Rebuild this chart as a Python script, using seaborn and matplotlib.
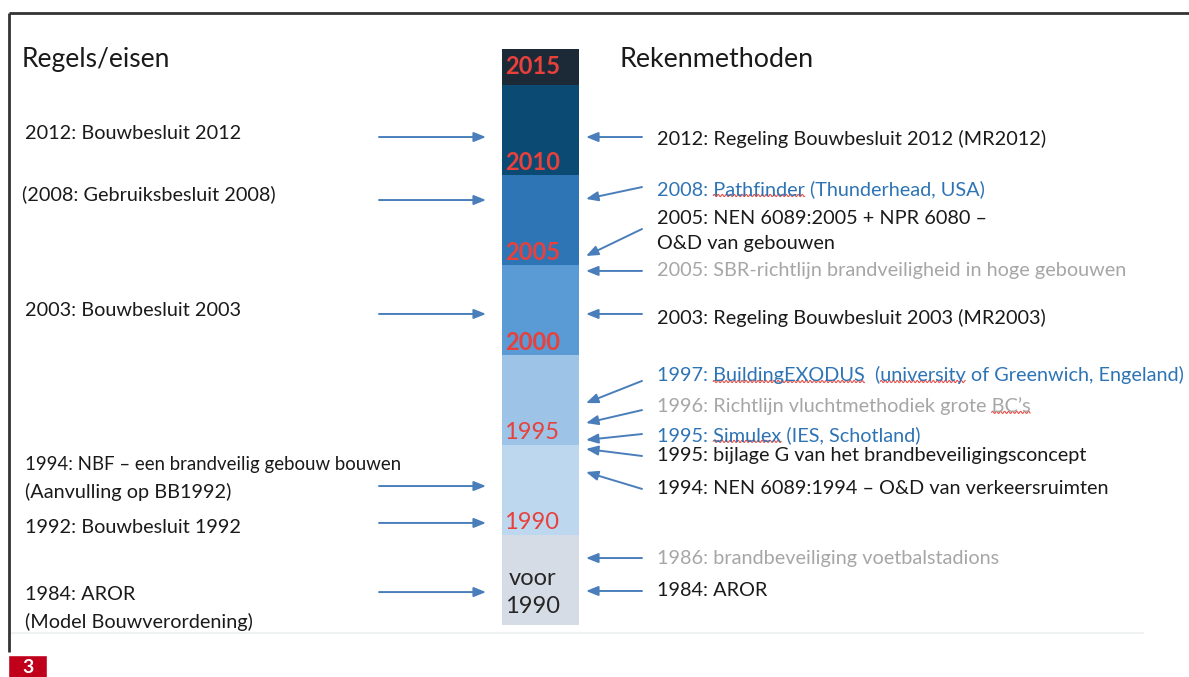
import matplotlib
matplotlib.use('Agg')
import numpy as np
import matplotlib.pyplot as plt
import seaborn as sns

sns.set_theme(style='white')
plt.rcParams['font.family'] = ['Lato', 'DejaVu Sans']

# timeline column (years, 2015 block is a short cap)
period_start = [1985, 1990, 1995, 2000, 2005, 2010, 2015]
period_len = [5, 5, 5, 5, 5, 5, 2]
period_labels = ['voor\n1990', '1990', '1995', '2000', '2005', '2010', '2015']
period_label_y = [1986.8, 1990.72, 1995.67, 2000.67, 2005.67, 2010.72, 2016.0]
period_colors = ['#d6dce5', '#bdd7ee', '#9dc3e6', '#5b9bd5', '#2e75b6', '#0b4a72', '#1c2a38']

# left side: rules / requirements
left_lines = ['2012: Bouwbesluit 2012', '(2008: Gebruiksbesluit 2008)', '2003: Bouwbesluit 2003',
              '1994: NBF – een brandveilig gebouw bouwen', '(Aanvulling op BB1992)',
              '1992: Bouwbesluit 1992', '1984: AROR', '(Model Bouwverordening)']
left_line_y = [2012.33, 2008.94, 2002.5, 1993.89, 1992.39, 1990.44, 1986.72, 1985.17]
left_arrow_y = [2012.11, 2008.61, 2002.28, 1992.72, 1990.67, 1986.83]

# right side: calculation methods
right_lines = ['2012: Regeling Bouwbesluit 2012 (MR2012)',
               '2008: Pathfinder (Thunderhead, USA)',
               '2005: NEN 6089:2005 + NPR 6080 –',
               'O&D van gebouwen',
               '2005: SBR-richtlijn brandveiligheid in hoge gebouwen',
               '2003: Regeling Bouwbesluit 2003 (MR2003)',
               '1997: BuildingEXODUS  (university of Greenwich, Engeland)',
               '1996: Richtlijn vluchtmethodiek grote BC’s',
               '1995: Simulex (IES, Schotland)',
               '1995: bijlage G van het brandbeveiligingsconcept',
               '1994: NEN 6089:1994 – O&D van verkeersruimten',
               '1986: brandbeveiliging voetbalstadions',
               '1984: AROR']
right_line_y = [2012.0, 2009.22, 2007.61, 2006.17, 2004.67, 2002.06, 1998.89,
                1997.17, 1995.56, 1994.39, 1992.56, 1988.72, 1986.89]
right_kind = ['main', 'model', 'main', 'main', 'guide', 'main', 'model',
              'guide', 'model', 'main', 'main', 'guide', 'main']
right_arrow_from = [2012.11, 2009.33, 2007.0, 2004.67, 2002.28, 1998.56, 1996.94,
                    1995.61, 1994.39, 1992.56, 1988.72, 1986.89]
right_arrow_to = [2012.11, 2008.67, 2005.5, 2004.67, 2002.28, 1997.33, 1996.22,
                  1995.28, 1994.78, 1993.5, 1988.72, 1986.89]

# words with the spell-check underline: (line index, word)
squiggle_words = [(1, 'Pathfinder'), (6, 'BuildingEXODUS'), (6, 'university'),
                  (7, 'BC’s'), (8, 'Simulex')]

kind_colors = {'main': '#1a1a1a', 'model': '#2e74b5', 'guide': '#a6a6a6'}
arrow_color = '#4a7ebb'
red = '#e8413c'
body_size = 14.3

fig = plt.figure(figsize=(11.89, 6.77), dpi=100)
ax = fig.add_axes([0, 0, 1, 1])
ax.set_xlim(0, 1189)
ax.set_ylim(1985 - 52 / 18, 1985 + 625 / 18)
ax.axis('off')

# frame of the original figure
ax.plot([9, 1189], [2019.0, 2019.0], color='#333333', lw=2, solid_capstyle='butt')
ax.plot([9, 9], [2019.0, 1983.5], color='#333333', lw=2, solid_capstyle='butt')
ax.plot([12, 1143], [1984.56, 1984.56], color='#eef2f2', lw=1.5)
ax.bar(27.5, 1983.33 - 1982.0, bottom=1982.0, width=39, color='#c0001a')
ax.text(27.5, 1982.62, '3', color='white', fontsize=14, fontweight='bold',
        ha='center', va='center')

# timeline column
ax.bar(540.5, period_len, bottom=period_start, width=77, color=period_colors,
       edgecolor='none')
for lab, y in zip(period_labels, period_label_y):
    if lab.startswith('voor'):
        ax.text(533, y, lab, ha='center', va='center', fontsize=17,
                color='#262626', linespacing=1.4)
    elif lab in ('1990', '1995'):
        ax.text(532, y, lab, ha='center', va='center', fontsize=17, color=red)
    else:
        ax.text(533, y, lab, ha='center', va='center', fontsize=17, color=red,
                fontweight='bold')

# headers
ax.text(22, 2016.39, 'Regels/eisen', fontsize=19, color='#1a1a1a', va='center')
ax.text(619, 2016.39, 'Rekenmethoden', fontsize=19.4, color='#1a1a1a', va='center')

# left column
for txt, y in zip(left_lines, left_line_y):
    x = 22 if txt.startswith('(2008') else 25
    size = 13.4 if txt.startswith('1994') else body_size
    ax.text(x, y, txt, fontsize=size, color='#1a1a1a', va='center')

arrow_kw = dict(arrowstyle='-|>,head_length=0.6,head_width=0.24', color=arrow_color,
                lw=1.4, shrinkA=0, shrinkB=0)
for y in left_arrow_y:
    ax.annotate('', xy=(486, y), xytext=(379, y), arrowprops=arrow_kw)

# right column
right_texts = []
for txt, y, k in zip(right_lines, right_line_y, right_kind):
    right_texts.append(ax.text(657, y, txt, fontsize=body_size, color=kind_colors[k],
                               va='center'))

for y0, y1 in zip(right_arrow_from, right_arrow_to):
    ax.annotate('', xy=(586, y1), xytext=(642, y0), arrowprops=arrow_kw)

# red wavy spell-check underlines
fig.canvas.draw()
renderer = fig.canvas.get_renderer()


def text_width(s, size):
    t = ax.text(0, 0, s, fontsize=size)
    w = t.get_window_extent(renderer).width
    t.remove()
    return w


inv = ax.transData.inverted()
for idx, word in squiggle_words:
    t = right_texts[idx]
    full = right_lines[idx]
    bb = t.get_window_extent(renderer)
    x0 = bb.x0 + text_width(full[:full.index(word)], body_size)
    x1 = x0 + text_width(word, body_size)
    xs = np.arange(x0, x1, 0.5)
    ys = bb.y0 + 2.5 + 1.1 * np.sin((xs - x0) / 4.0 * 2 * np.pi)
    pts = inv.transform(np.column_stack([xs, ys]))
    ax.plot(pts[:, 0], pts[:, 1], color='#e8504a', lw=0.8)

fig.savefig('out.png', dpi=100, facecolor='white')
